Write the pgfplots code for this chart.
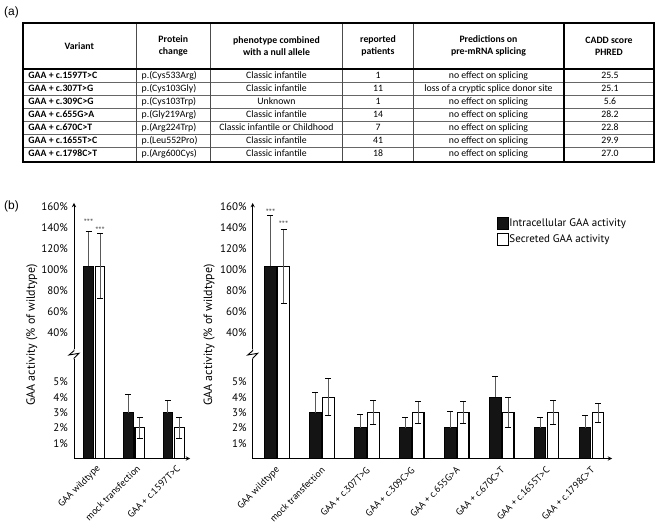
\documentclass[border=0pt]{standalone}
\usepackage{fontspec}
\setmainfont{Carlito}
\newfontfamily\chartfont{PT Sans}
\newfontfamily\labfont{Liberation Sans}
\usepackage{pgfplots}
\usepackage{pgfplotstable}
\pgfplotsset{compat=1.18}

\pgfplotstableread{
x intra interr sec secerr
0 103 33 103 31
1 3 1.2 2 0.7
2 3 0.8 2 0.7
}\leftdata

\pgfplotstableread{
x intra interr sec secerr
0 103 48 103 35.5
1 3 1.33 4 1.2
2 2 0.85 3 0.78
3 2 0.7 3 0.7
4 2 1.1 3 0.7
5 4 1.35 3 0.97
6 2 0.7 3 0.78
7 2 0.8 3 0.62
}\rightdata

\pgfplotsset{
  brkbase/.style={
    scale only axis, anchor=south west,
    clip marker paths=true,
    axis line style={-, line width=0.9bp, black},
    major tick length=0pt,
    tick style={draw=none},
    yticklabel style={font=\chartfont\fontsize{11}{13}\selectfont, inner sep=0pt, xshift=-6bp, anchor=east},
  },
  intrabar/.style={ybar, bar width=#1, bar shift=0, fill=black!92, draw=black, line width=0.8bp, forget plot,
    error bars/.cd, y dir=plus, y explicit,
    error bar style={line width=1bp, black!65},
    error mark options={rotate=90, mark size=3bp, line width=1bp, black}},
  secbar/.style={ybar, bar width=#1, bar shift=0, fill=white, draw=black, line width=1.2bp, forget plot,
    error bars/.cd, y dir=both, y explicit,
    error bar style={line width=1bp, black!65},
    error mark options={rotate=90, mark size=3bp, line width=1bp, black}},
}

\begin{document}
\begin{tikzpicture}
% ---------------- table (a) ----------------
\begin{scope}[x=1bp,y=1bp]
\node[anchor=west, font=\labfont\fontsize{12}{14}\selectfont, inner sep=0pt] at (4,513) {(a)};
\node[anchor=west, font=\labfont\fontsize{12}{14}\selectfont, inner sep=0pt] at (4,319) {(b)};
\foreach \yy in {443,430,417,404,391,378}
  \draw[line width=0.6bp, black!60] (22.5,\yy) -- (654,\yy);
\foreach \xx in {136,210.5,342.5,413.5}
  \draw[line width=0.8bp, black!70] (\xx,362.7) -- (\xx,502);
\draw[line width=2bp] (563.5,362.7) -- (563.5,502);
\draw[line width=2bp] (22.5,456) -- (654,456);
\draw[line width=2bp] (22.5,362.7) rectangle (654,502);
\begin{scope}[every node/.style={font=\bfseries\fontsize{9.8}{12}\selectfont, align=center, inner sep=0pt}]
\node at (79.3,479) {Variant};
\node at (173.3,479) {Protein\\change};
\node at (276.5,479) {phenotype combined\\with a null allele};
\node at (378,479) {reported\\patients};
\node at (488.5,479) {Predictions on\\pre-mRNA splicing};
\node at (609,479) {CADD score\\PHRED};
\end{scope}
\begin{scope}[every node/.style={font=\fontsize{9.8}{12}\selectfont, inner sep=0pt, anchor=base}]
\foreach \v/\p/\ph/\n/\pr/\c [count=\r from 0] in {
  GAA + c.1597T>C/p.(Cys533Arg)/Classic infantile/1/no effect on splicing/25.5,
  GAA + c.307T>G/p.(Cys103Gly)/Classic infantile/11/loss of a cryptic splice donor site/25.1,
  GAA + c.309C>G/p.(Cys103Trp)/Unknown/1/no effect on splicing/5.6,
  GAA + c.655G>A/p.(Gly219Arg)/Classic infantile/14/no effect on splicing/28.2,
  GAA + c.670C>T/p.(Arg224Trp)/Classic infantile or Childhood/7/no effect on splicing/22.8,
  GAA + c.1655T>C/p.(Leu552Pro)/Classic infantile/41/no effect on splicing/29.9,
  GAA + c.1798C>T/p.(Arg600Cys)/Classic infantile/18/no effect on splicing/27.0}
{
  \pgfmathsetmacro{\by}{446.2-13*\r}
  \node[anchor=base west, font=\bfseries\fontsize{9.8}{12}\selectfont] at (28.3,\by) {\v};
  \node[anchor=base west] at (141.5,\by) {\p};
  \node at (276.5,\by) {\ph};
  \node at (378,\by) {\n};
  \node at (488.5,\by) {\pr};
  \node at (610,\by) {\c};
}
\end{scope}
\end{scope}

% ---------------- left chart: upper part (drawn first) ----------------
\begin{axis}[brkbase, name=Lup, at={(74bp,169bp)}, width=116bp, height=153bp,
  xmin=-0.511, xmax=2.41, ymin=17.6, ymax=163.3,
  axis x line=none, axis y line=left,
  restrict x to domain=-1:0.5,
  ytick={40,60,...,160}, yticklabels={40\%,60\%,80\%,100\%,120\%,140\%,160\%},
  ylabel={GAA activity (\% of wildtype)},
  ylabel style={font=\chartfont\fontsize{12}{14}\selectfont, at={(axis description cs:-0.362,0.138)}, anchor=center},
]
\addplot[intrabar=0.239] table[x expr=\thisrow{x}-0.145, y=intra, y error=interr]{\leftdata};
\addplot[secbar=0.239] table[x expr=\thisrow{x}+0.145, y=sec, y error=secerr]{\leftdata};
\node[font=\chartfont\fontsize{9}{10}\selectfont, text=black!65] at (axis cs:-0.145,144.6) {***};
\node[font=\chartfont\fontsize{9}{10}\selectfont, text=black!65] at (axis cs:0.145,137) {***};
\end{axis}
% ---------------- left chart: lower part ----------------
\begin{axis}[brkbase, name=Llow, at={(74bp,66.5bp)}, width=116bp, height=104.5bp,
  xmin=-0.511, xmax=2.41, ymin=0, ymax=6.83,
  axis x line=bottom, axis y line=left,
  ytick={1,2,3,4,5}, yticklabels={1\%,2\%,3\%,4\%,5\%},
  xtick={0,1,2}, xticklabels={GAA wildtype, mock transfection, GAA + c.1597T>C},
  xticklabel style={font=\chartfont\fontsize{9.6}{11}\selectfont, inner sep=0pt, xshift=4.7bp, yshift=-8.5bp, rotate=45, anchor=east},
]
\addplot[intrabar=0.239] table[x expr=\thisrow{x}-0.145, y=intra, y error=interr]{\leftdata};
\addplot[secbar=0.239] table[x expr=\thisrow{x}+0.145, y=sec, y error=secerr]{\leftdata};
\end{axis}

% ---------------- right chart: upper part ----------------
\begin{axis}[brkbase, name=Rup, at={(252.7bp,169bp)}, width=359.3bp, height=153bp,
  xmin=-0.541, xmax=7.456, ymin=17.6, ymax=163.3,
  axis x line=none, axis y line=left,
  restrict x to domain=-1:0.5,
  ytick={40,60,...,160}, yticklabels={40\%,60\%,80\%,100\%,120\%,140\%,160\%},
  ylabel={GAA activity (\% of wildtype)},
  ylabel style={font=\chartfont\fontsize{12}{14}\selectfont, at={(axis description cs:-0.121,0.138)}, anchor=center},
  legend style={at={(axis description cs:0.679,0.91)}, anchor=north west, draw=none, fill=none,
    font=\chartfont\fontsize{11}{13}\selectfont, row sep=3.5bp, inner sep=0pt,
    nodes={inner sep=0pt, xshift=1bp}},
  legend cell align=left,
]
\addplot[intrabar=0.256] table[x expr=\thisrow{x}-0.145, y=intra, y error=interr]{\rightdata};
\addplot[secbar=0.256] table[x expr=\thisrow{x}+0.145, y=sec, y error=secerr]{\rightdata};
\node[font=\chartfont\fontsize{9}{10}\selectfont, text=black!65] at (axis cs:-0.145,154.5) {***};
\node[font=\chartfont\fontsize{9}{10}\selectfont, text=black!65] at (axis cs:0.145,143.3) {***};
\addlegendimage{legend image code/.code={\draw[fill=black!92, draw=black, line width=1bp] (0bp,-5.8bp) rectangle (11.6bp,5.8bp);}}
\addlegendentry{Intracellular GAA activity}
\addlegendimage{legend image code/.code={\draw[fill=white, draw=black, line width=1bp] (0bp,-5.8bp) rectangle (11.6bp,5.8bp);}}
\addlegendentry{Secreted GAA activity}
\end{axis}
% ---------------- right chart: lower part ----------------
\begin{axis}[brkbase, name=Rlow, at={(252.7bp,66.5bp)}, width=359.3bp, height=104.5bp,
  xmin=-0.541, xmax=7.456, ymin=0, ymax=6.83,
  axis x line=bottom, axis y line=left,
  ytick={1,2,3,4,5}, yticklabels={1\%,2\%,3\%,4\%,5\%},
  xtick={0,...,7}, xticklabels={GAA wildtype, mock transfection, GAA + c.307T>G, GAA + c.309C>G, GAA + c.655G>A, GAA + c.670C>T, GAA + c.1655T>C, GAA + c.1798C>T},
  xticklabel style={font=\chartfont\fontsize{9.6}{11}\selectfont, inner sep=0pt, xshift=1.3bp, yshift=-10bp, rotate=45, anchor=east},
]
\addplot[intrabar=0.256] table[x expr=\thisrow{x}-0.145, y=intra, y error=interr]{\rightdata};
\addplot[secbar=0.256] table[x expr=\thisrow{x}+0.145, y=sec, y error=secerr]{\rightdata};
\end{axis}

% break marks
\foreach \ax in {74,252.7}{
  \fill[white] (\ax bp-3bp,166bp) rectangle (\ax bp+3bp,175.5bp);
  \draw[line width=0.9bp, line join=miter] (\ax bp,175.5bp) -- (\ax bp,174.3bp) -- (\ax bp-5bp,170bp) -- (\ax bp+5bp,171.7bp) -- (\ax bp,166.7bp) -- (\ax bp,165.5bp);
}
\pgfresetboundingbox
\path[use as bounding box] (0,0) rectangle (658bp,525bp);
\end{tikzpicture}
\end{document}
